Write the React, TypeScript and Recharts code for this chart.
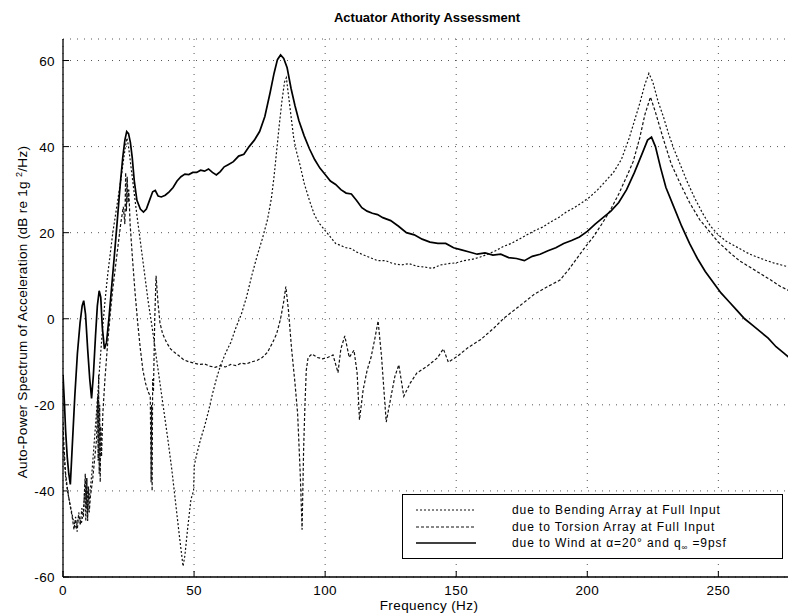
import React from 'react';
import { LineChart, Line, XAxis, YAxis, CartesianGrid, Legend } from 'recharts';

const xTicks = [0, 50, 100, 150, 200, 250];
const yTicks = [-60, -40, -20, 0, 20, 40, 60];
const chartTitle = 'Actuator Athority Assessment';
const xLabel = 'Frequency (Hz)';
const yLabelMain = 'Auto-Power Spectrum of Acceleration (dB re 1g ';
const yLabelSup = '2';
const yLabelEnd = '/Hz)';
const seriesNames = [
  'due to Bending Array at Full Input',
  'due to Torsion Array at Full Input',
  'due to Wind at α=20° and q∞=9psf',
];

// [frequency Hz, dB]
const bendingSpectrum: [number, number][] = [
  [0, -28], [0.5, -33], [1.2, -38], [2, -41], [3, -44], [4, -47], [5, -48.5], [6, -46], [7, -47.5],
  [7.8, -45], [8.4, -38], [8.7, -47], [9.0, -37], [9.3, -46], [9.6, -40], [10, -42], [11, -36],
  [12, -28], [13, -20], [14, -11], [15, -3], [16, 4], [17, 10], [18, 15], [19, 20], [20, 24],
  [21, 28], [22, 32], [23, 36.5], [23.8, 40], [24.4, 42], [25, 40], [25.8, 36], [26.8, 31],
  [28, 25], [29.5, 18], [31, 11], [32.5, 4], [34, -2], [35.5, -8.5], [37, -15], [38.5, -21.5],
  [40, -28], [41.5, -35], [43, -43], [44.5, -51], [45.8, -57.5], [46.5, -55], [47.5, -49],
  [48.8, -42], [49.8, -40], [50.1, -34], [51, -31.5], [52.5, -28], [54, -25], [55.5, -21.5],
  [57, -17.5], [58.5, -14], [60, -11], [62, -8], [64, -5.5], [66, -2], [68, 1], [70, 5], [72, 10],
  [74, 14.5], [76, 18.5], [78, 23], [79.5, 28], [80.5, 33], [81.5, 39], [82.5, 45], [83.5, 50.5],
  [84.5, 55], [85.2, 56], [86, 52], [87, 47], [88, 42], [89, 39], [90.5, 35.5], [92, 31.5],
  [94, 27.5], [96, 24], [98, 22], [100, 20.5], [102, 19], [104, 17.5], [106, 17], [108, 16.5],
  [110, 16.3], [112, 15.5], [114, 15], [116, 14.5], [118, 14], [120, 13.5], [123, 13.5],
  [126, 12.8], [129, 12.5], [132, 12.8], [135, 12.2], [138, 12], [141, 11.7], [144, 12.5],
  [147, 12.8], [150, 13], [153, 13.5], [156, 13.8], [159, 14.3], [162, 15], [165, 15.8],
  [168, 16.8], [171, 17.5], [174, 18.5], [177, 19.5], [180, 20.5], [183, 21.3], [186, 22.5],
  [189, 23.5], [192, 24.8], [195, 25.8], [198, 27], [201, 28.3], [204, 30], [207, 32], [210, 34],
  [213, 37], [216, 42], [218, 46], [220, 50], [222, 54.5], [223.5, 57], [225, 55], [227, 50.5],
  [229, 47], [231, 43], [233, 39.5], [235, 36.5], [238, 32], [241, 28], [244, 24.5], [247, 21.5],
  [250, 19.5], [253, 18], [256, 17], [259, 16], [262, 15], [265, 14.3], [268, 13.6], [271, 13],
  [274, 12.5], [277, 12], [280, 11.5],
];

const torsionSpectrum: [number, number][] = [
  [0, -24], [0.4, -30], [1, -36], [1.8, -40], [2.6, -43], [3.5, -46], [4.2, -49], [4.8, -46],
  [5.4, -49.5], [6, -45], [6.6, -48], [7.2, -44], [7.8, -46], [8.2, -40], [8.5, -36], [8.8, -44],
  [9.1, -37], [9.4, -47], [9.7, -39], [10, -45], [10.5, -41], [11.2, -38], [12, -33], [12.8, -28],
  [13.2, -18], [13.4, -33], [13.6, -13], [13.8, -36], [14, -20], [14.2, -38], [14.4, -25],
  [14.7, -32], [15.2, -22], [16, -14], [17, -6], [18, 1], [19, 7], [20, 12], [21, 17], [22, 22],
  [23, 26], [23.6, 22], [23.9, 34], [24.2, 25], [24.5, 33], [24.8, 27], [25.1, 30], [25.6, 22],
  [26.5, 14], [27.5, 6], [28.5, -1], [29.5, -7], [30.5, -12], [31.5, -15], [32.5, -17],
  [33.3, -18], [33.6, -38], [33.8, -20], [34, -40], [34.2, -14], [34.5, -17], [35, 0], [35.5, 10],
  [36.2, 4], [37, -1], [38, -3.5], [39.5, -5.5], [41, -7], [42.5, -7.8], [44, -8.5], [46, -9.5],
  [48, -10], [50, -10.3], [52, -10.6], [54, -10.5], [56, -11], [58, -11.3], [60, -10.9],
  [62, -11.2], [64, -10.6], [66, -10.9], [68, -10.3], [70, -10.5], [72, -10], [74, -9.7],
  [76, -9], [78, -7.8], [80, -5.5], [81.5, -3.5], [83, 0], [84.2, 4], [85, 7.5], [86, 2],
  [87.2, -7], [88.5, -15], [89.5, -22], [90.5, -36], [91.2, -49], [91.8, -30], [92.3, -20],
  [92.8, -12], [93.5, -9], [95, -8.2], [97, -9], [99, -9.3], [101, -9], [103, -8.4],
  [104.9, -12.5], [106, -7], [107.5, -4], [109.2, -9], [111, -7.3], [112.2, -12.6],
  [113.1, -23.5], [114.5, -16.5], [116, -12], [117.5, -9], [119, -4.5], [120.2, -0.5],
  [121.5, -8.7], [123.3, -24], [124.9, -18.8], [126.6, -13.4], [128.1, -10.7], [130, -18],
  [132.5, -14.9], [135, -12.6], [139, -11], [142.8, -9.1], [145.1, -7], [147, -10.1],
  [150.5, -8.7], [154.3, -6.8], [159.4, -4.8], [164.5, -2.1], [168.3, 0.2], [173.4, 2.6],
  [179.8, 5.7], [185, 7.5], [189.6, 9], [193, 11.5], [196, 14], [199, 16.5], [202.3, 19],
  [205, 21.5], [208.6, 25], [212, 29], [215, 33], [217.5, 36.5], [220, 42], [222, 47.5],
  [224.1, 51.5], [226, 48], [228.9, 42], [232, 36], [235.3, 31.6], [239, 27], [242.9, 23],
  [247, 20], [250, 17.8], [254.3, 15.4], [258, 13.5], [262, 12], [266, 10.5], [270, 9],
  [273.4, 7.6], [277, 6.5], [280, 5.5],
];

const windSpectrum: [number, number][] = [
  [0, -13], [0.5, -19], [1, -26], [1.6, -32], [2.2, -36], [2.8, -38.5], [3.5, -30], [4.5, -18],
  [5.5, -8], [6.5, -1], [7.3, 3], [7.9, 4.2], [8.6, 1], [9.4, -7], [10.2, -14], [10.9, -18.5],
  [11.6, -13], [12.4, -4], [13.1, 3], [13.8, 6.5], [14.4, 5], [15, -2], [15.8, -7], [16.6, -5.5],
  [17.5, 0], [18.5, 7], [19.5, 14], [20.6, 22], [21.8, 31], [22.8, 37.5], [23.6, 41.5],
  [24.3, 43.5], [25, 43], [25.7, 41], [26.4, 37.5], [27.2, 32], [28.2, 27.5], [29.5, 25.5],
  [30.7, 24.8], [31.8, 25.5], [33, 27.5], [34.2, 29.5], [35.2, 29.8], [36.3, 28.5], [37.5, 28.3],
  [39, 28.7], [40.5, 29.5], [42, 30.5], [43.5, 32], [45, 33], [46.5, 33.6], [48, 33.5],
  [49.5, 34], [51, 34], [52.5, 34.5], [54, 34.3], [55.5, 34.8], [57, 34], [58.5, 33.4], [60, 34.2],
  [61.5, 35.3], [63, 35.8], [65, 36.5], [67, 37.8], [69, 38.2], [71, 40], [73, 41.5], [75, 43.5],
  [77, 47], [79, 52.5], [80.5, 57], [81.8, 60.2], [83, 61.3], [84.2, 60.5], [85.5, 58.3],
  [87, 53.5], [88.5, 49.5], [90, 46], [92, 42.5], [94, 39.5], [96, 37], [98, 35], [100, 33.5],
  [102, 32], [104, 31.2], [106, 30], [108, 29.2], [110, 29], [112, 27.5], [114, 25.8], [116, 25],
  [118, 24.5], [120, 24.2], [122, 23.5], [125, 22.8], [128, 21.5], [131, 20], [134, 19.5],
  [137, 18.5], [140, 17.8], [143, 17.5], [146, 17.5], [149, 16.5], [152, 16], [155, 15.5],
  [158, 15], [161, 15.3], [164, 14.8], [167, 15], [170, 14.2], [173, 14], [176, 13.5],
  [179, 14.5], [182, 15], [185, 15.8], [188, 16.5], [191, 17.5], [194, 18.2], [197, 19],
  [200, 20.3], [203, 22], [206, 23.5], [209, 25], [212, 27], [215, 30], [218, 34], [221, 38.5],
  [223, 41.5], [224.5, 42.2], [226, 40], [228, 35], [230, 30.5], [233, 26], [236, 21.5],
  [239, 17.5], [242, 14], [245, 11], [248, 8.5], [251, 6], [254, 4], [257, 2], [260, 0],
  [263, -1.5], [266, -3], [269, -4.5], [272, -6.5], [275, -8], [278, -9.5],
];

const toRows = (s: [number, number][]) => s.map(([f, db]) => ({ f, db }));

const FONT = '"Liberation Sans", Arial, Helvetica, sans-serif';

const seriesStyles = [
  { dash: '2 2', width: 1.2, color: '#111' },
  { dash: '3 2', width: 1.2, color: '#111' },
  { dash: undefined as string | undefined, width: 1.7, color: '#000' },
];

const BottomTick = (props: any) => {
  const { x, y, payload } = props;
  return (
    <g>
      <line x1={x} x2={x} y1={y} y2={y - 6} stroke="#000" strokeWidth={1} />
      <text x={x} y={y + 18} textAnchor="middle" fontSize={13.5} fontFamily={FONT} fill="#000" letterSpacing={0.4}>
        {payload.value}
      </text>
    </g>
  );
};

const TopTick = (props: any) => {
  const { x, y } = props;
  return <line x1={x} x2={x} y1={y} y2={y + 6} stroke="#000" strokeWidth={1} />;
};

const LeftTick = (props: any) => {
  const { x, y, payload } = props;
  return (
    <g>
      <line x1={x} x2={x + 6} y1={y} y2={y} stroke="#000" strokeWidth={1} />
      <text x={x - 8} y={y + 5} textAnchor="end" fontSize={13.5} fontFamily={FONT} fill="#000" letterSpacing={0.4}>
        {payload.value}
      </text>
    </g>
  );
};

const renderLegend = () => (
  <div
    style={{
      width: 381,
      height: 65,
      border: '1px solid #000',
      background: '#fff',
      boxSizing: 'border-box',
      position: 'relative',
      fontFamily: FONT,
      color: '#000',
    }}
  >
    {seriesNames.map((name, i) => {
      const st = seriesStyles[i];
      let label: React.ReactNode = name;
      if (name.includes('∞')) {
        const [pre, post] = name.split('∞');
        label = (
          <>
            {pre}
            <sub style={{ fontSize: 8, lineHeight: 0 }}>∞</sub> {post}
          </>
        );
      }
      return (
        <div key={i} style={{ position: 'absolute', left: 0, top: 8 + i * 16.5, height: 14, width: '100%' }}>
          <svg width={64} height={14} style={{ position: 'absolute', left: 13, top: 0 }}>
            <line x1={0} x2={60} y1={7} y2={7} stroke={st.color} strokeWidth={st.width} strokeDasharray={st.dash} />
          </svg>
          <span
            style={{
              position: 'absolute',
              left: 109,
              top: 0,
              fontSize: 12,
              lineHeight: '14px',
              whiteSpace: 'nowrap',
              letterSpacing: 0.9,
            }}
          >
            {label}
          </span>
        </div>
      );
    })}
  </div>
);

export default function App() {
  const series = [bendingSpectrum, torsionSpectrum, windSpectrum];
  return (
    <div
      style={{
        position: 'absolute',
        left: 0,
        top: 0,
        width: 788,
        height: 616,
        overflow: 'hidden',
        background: '#fff',
        fontFamily: FONT,
      }}
    >
      <div style={{ position: 'absolute', left: 0, top: 0 }}>
        <LineChart width={797} height={616} margin={{ top: 39, right: 0, bottom: 9, left: 0 }}>
          <CartesianGrid stroke="#555" strokeDasharray="1 6" strokeWidth={1} />
          <XAxis
            dataKey="f"
            type="number"
            domain={[0, 280]}
            ticks={xTicks}
            allowDataOverflow
            height={30}
            tickSize={0}
            tickMargin={0}
            tickLine={false}
            axisLine={{ stroke: '#000', strokeWidth: 1.3 }}
            tick={<BottomTick />}
            interval={0}
          />
          <XAxis
            xAxisId="top"
            orientation="top"
            dataKey="f"
            type="number"
            domain={[0, 280]}
            ticks={xTicks}
            allowDataOverflow
            height={0}
            tickSize={0}
            tickMargin={0}
            tickLine={false}
            axisLine={{ stroke: '#000', strokeWidth: 1.6 }}
            tick={<TopTick />}
            interval={0}
          />
          <YAxis
            type="number"
            domain={[-60, 65]}
            ticks={yTicks}
            allowDataOverflow
            width={63}
            tickSize={0}
            tickMargin={0}
            tickLine={false}
            axisLine={{ stroke: '#000', strokeWidth: 1.3 }}
            tick={<LeftTick />}
            interval={0}
          />
          <Legend
            layout="horizontal"
            verticalAlign="middle"
            align="center"
            content={renderLegend}
            wrapperStyle={{ position: 'absolute', left: 402, top: 494, width: 381, height: 65 }}
          />
          {series.map((s, i) => (
            <Line
              key={i}
              name={seriesNames[i]}
              data={toRows(s)}
              dataKey="db"
              type="linear"
              dot={false}
              activeDot={false}
              stroke={seriesStyles[i].color}
              strokeWidth={seriesStyles[i].width}
              strokeDasharray={seriesStyles[i].dash}
              isAnimationActive={false}
            />
          ))}
        </LineChart>
      </div>
      <div
        style={{
          position: 'absolute',
          left: 427,
          top: 11,
          transform: 'translateX(-50%)',
          fontSize: 13,
          fontWeight: 'bold',
          lineHeight: '14px',
          whiteSpace: 'nowrap',
          color: '#000',
        }}
      >
        {chartTitle}
      </div>
      <div
        style={{
          position: 'absolute',
          left: 429,
          top: 598,
          transform: 'translateX(-50%)',
          fontSize: 13.5,
          lineHeight: '15px',
          whiteSpace: 'nowrap',
          letterSpacing: 0.4,
          color: '#000',
        }}
      >
        {xLabel}
      </div>
      <div
        style={{
          position: 'absolute',
          left: 22,
          top: 312,
          transform: 'translate(-50%, -50%) rotate(-90deg)',
          fontSize: 13.5,
          lineHeight: '15px',
          whiteSpace: 'nowrap',
          letterSpacing: 0.3,
          color: '#000',
        }}
      >
        {yLabelMain}
        <sup style={{ fontSize: 9, verticalAlign: 'top', position: 'relative', top: -3 }}>{yLabelSup}</sup>
        {yLabelEnd}
      </div>
    </div>
  );
}
